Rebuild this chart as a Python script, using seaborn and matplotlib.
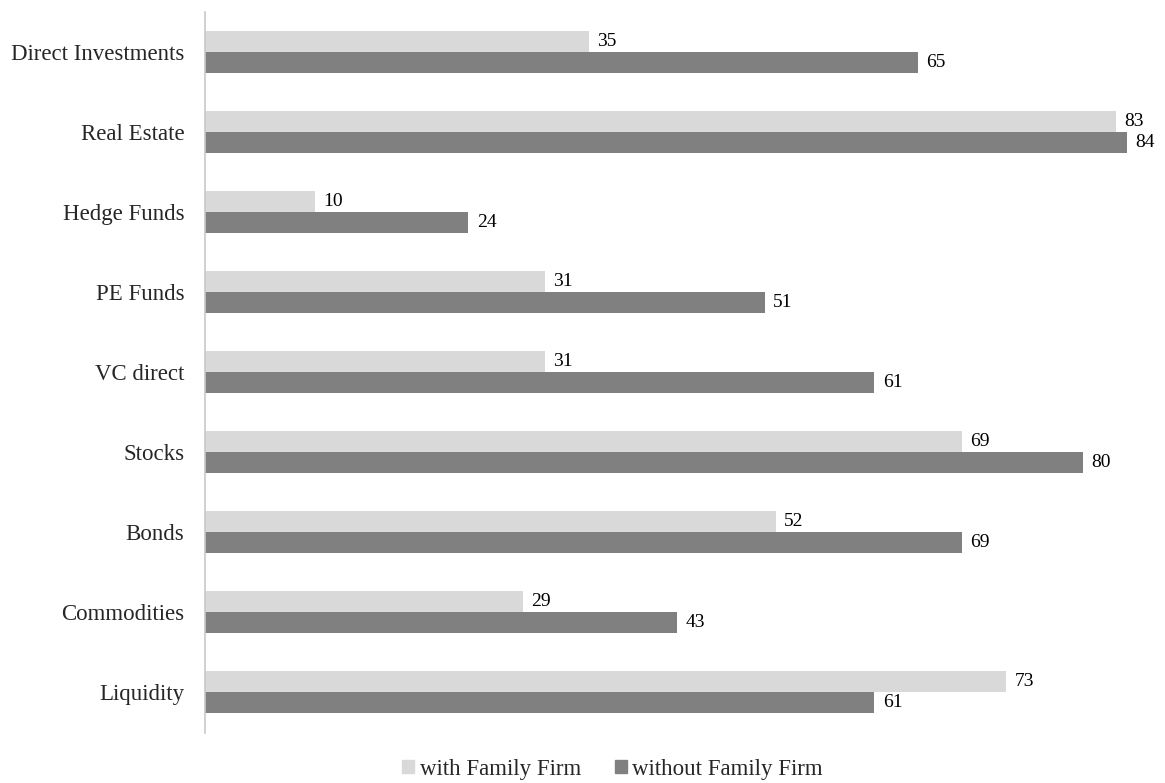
import pandas as pd
import seaborn as sns
import matplotlib.pyplot as plt

# data
categories = ['Direct Investments', 'Real Estate', 'Hedge Funds', 'PE Funds', 'VC direct',
              'Stocks', 'Bonds', 'Commodities', 'Liquidity']
with_ff = [35, 83, 10, 31, 31, 69, 52, 29, 73]
without_ff = [65, 84, 24, 51, 61, 80, 69, 43, 61]
series = ['with Family Firm', 'without Family Firm']
colors = ['#d9d9d9', '#808080']

df = pd.DataFrame({
    'category': categories * 2,
    'value': with_ff + without_ff,
    'series': [series[0]] * len(categories) + [series[1]] * len(categories),
})

sns.set_style('white')
plt.rcParams['font.family'] = ['Liberation Serif', 'DejaVu Serif']

fig = plt.figure(figsize=(11.65, 7.83), dpi=100)
ax = fig.add_axes([0.176, 0.064, 0.81, 0.921])

sns.barplot(data=df, x='value', y='category', hue='series', orient='h',
            palette=colors, width=0.525, gap=0, saturation=1, linewidth=0,
            ax=ax, legend=False)

for cont in ax.containers:
    ax.bar_label(cont, fmt='%d', padding=6, fontsize=14, color='#000000')

ax.set_xlim(0, 86)
ax.set_ylim(8.51, -0.5)
ax.set_xlabel('')
ax.set_ylabel('')
ax.set_xticks([])
ax.tick_params(axis='y', length=0, pad=15, labelsize=16.5)
for s in ['top', 'right', 'bottom']:
    ax.spines[s].set_visible(False)
ax.spines['left'].set_color('#c8c8c8')
ax.spines['left'].set_linewidth(1.2)

handles = [plt.Rectangle((0, 0), 1, 1, color=c) for c in colors]
fig.legend(handles, series, loc='lower center', bbox_to_anchor=(0.526, -0.022), ncol=2,
           frameon=False, fontsize=16.5, handlelength=0.5, handleheight=0.5,
           handletextpad=0.25, columnspacing=1.5)

plt.savefig('out.png', dpi=100)
